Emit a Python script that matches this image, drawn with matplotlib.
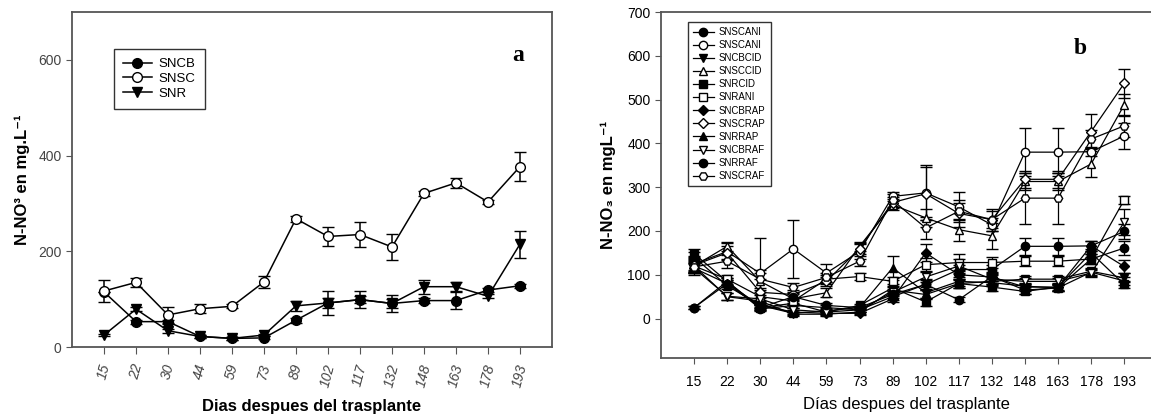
import matplotlib
matplotlib.use("Agg")
import matplotlib.pyplot as plt
from matplotlib.lines import Line2D

plt.rcParams['font.family'] = ['Liberation Sans', 'DejaVu Sans']

days = ["15", "22", "30", "44", "59", "73", "89", "102", "117", "132", "148", "163", "178", "193"]

# ---- Panel a ----
sncb = [115, 53, 53, 22, 18, 19, 56, 92, 99, 91, 97, 97, 119, 128]
sncb_err = [0, 4, 4, 3, 3, 3, 5, 26, 8, 10, 6, 17, 4, 4]
snsc = [117, 135, 67, 80, 85, 136, 268, 231, 235, 209, 321, 343, 303, 377]
snsc_err = [23, 10, 16, 9, 4, 12, 6, 20, 26, 28, 5, 10, 4, 30]
snr = [25, 79, 34, 22, 18, 25, 86, 92, 99, 91, 126, 126, 106, 215]
snr_err = [3, 4, 4, 3, 3, 3, 11, 10, 17, 18, 15, 10, 4, 28]

# ---- Panel b ----
b_labels = ["SNSCANI", "SNSCANI", "SNCBCID", "SNSCCID", "SNRCID", "SNRANI",
            "SNCBRAP", "SNSCRAP", "SNRRAP", "SNCBRAF", "SNRRAF", "SNSCRAF"]
b_values = [
    [25, 85, 22, 30, 25, 20, 50, 78, 112, 112, 165, 165, 166, 199],
    [125, 153, 103, 159, 104, 153, 279, 287, 255, 214, 380, 380, 381, 417],
    [120, 50, 40, 10, 10, 15, 65, 55, 80, 85, 90, 90, 108, 93],
    [120, 165, 85, 45, 59, 165, 260, 230, 203, 189, 313, 313, 353, 488],
    [148, 85, 25, 35, 15, 30, 70, 38, 80, 72, 62, 72, 150, 78],
    [120, 90, 50, 40, 90, 96, 85, 123, 128, 128, 131, 131, 136, 271],
    [115, 80, 30, 15, 12, 12, 45, 150, 100, 95, 72, 72, 166, 119],
    [122, 150, 60, 55, 85, 160, 265, 285, 240, 226, 318, 318, 427, 537],
    [140, 75, 30, 12, 18, 25, 116, 59, 85, 82, 74, 70, 106, 86],
    [115, 51, 45, 20, 15, 20, 60, 95, 120, 90, 85, 85, 104, 220],
    [25, 80, 25, 50, 30, 25, 55, 78, 43, 96, 65, 70, 136, 161],
    [118, 131, 90, 71, 94, 131, 270, 207, 245, 226, 275, 275, 410, 440],
]
b_errors = [
    [4, 8, 5, 6, 5, 4, 8, 12, 10, 10, 20, 20, 12, 18],
    [18, 20, 80, 67, 20, 18, 10, 63, 35, 15, 55, 55, 10, 30],
    [10, 8, 6, 4, 4, 4, 8, 10, 10, 8, 8, 8, 8, 10],
    [20, 10, 20, 12, 10, 10, 12, 20, 25, 30, 20, 20, 30, 25],
    [10, 8, 6, 5, 4, 4, 8, 10, 10, 8, 6, 6, 10, 8],
    [12, 10, 10, 8, 10, 8, 10, 15, 20, 12, 12, 12, 12, 10],
    [10, 8, 6, 4, 4, 4, 8, 20, 12, 10, 8, 8, 12, 15],
    [15, 15, 30, 10, 10, 12, 12, 60, 30, 25, 20, 20, 40, 33],
    [12, 8, 6, 4, 4, 4, 27, 12, 10, 8, 6, 6, 8, 10],
    [12, 8, 8, 5, 4, 4, 8, 12, 15, 10, 8, 8, 8, 30],
    [4, 8, 5, 8, 5, 4, 8, 10, 6, 10, 8, 8, 12, 15],
    [15, 15, 20, 10, 10, 12, 15, 25, 20, 20, 58, 58, 20, 25],
]
b_markers = ['o', 'o', 'v', '^', 's', 's', 'D', 'D', '^', 'v', 'o', 'H']
b_filled = [True, False, True, False, True, False, True, False, True, False, True, False]

fig = plt.figure(figsize=(11.51, 4.15), dpi=100)
spine_col = '#555555'

# ---------- Panel a ----------
ax1 = fig.add_axes([72/1151, 68/415, 480/1151, 335/415])
x = list(range(len(days)))
a_series = [(sncb, sncb_err, 'o', 'black', 'SNCB'),
            (snsc, snsc_err, 'o', 'white', 'SNSC'),
            (snr, snr_err, 'v', 'black', 'SNR')]
a_handles = []
for vals, errs, mk, fc, lab in a_series:
    ax1.errorbar(x, vals, yerr=errs, fmt='-' + mk, color='black', mfc=fc, mec='black',
                 ms=7, lw=1.1, capsize=4, elinewidth=1.1, zorder=3)
    a_handles.append(Line2D([], [], color='black', marker=mk, mfc=fc, mec='black',
                            ms=7, lw=1.1, label=lab))
ax1.set_xlim(-1, 14)
ax1.set_ylim(0, 700)
ax1.set_yticks([0, 200, 400, 600])
ax1.set_xticks(x)
ax1.set_xticklabels(days, rotation=75, fontstyle='italic', color='#444444', fontsize=10)
ax1.tick_params(axis='y', labelsize=10, labelcolor='#444444', direction='out', length=4, color=spine_col)
ax1.tick_params(axis='x', direction='out', length=5, color=spine_col, pad=6)
for s in ax1.spines.values():
    s.set_color(spine_col)
    s.set_linewidth(1.3)
ax1.set_ylabel('N-NO³ en mg.L⁻¹', fontweight='bold', fontsize=12, labelpad=6)
ax1.set_xlabel('Dias despues del trasplante', fontweight='bold', fontsize=12, labelpad=8)
leg1 = ax1.legend(handles=a_handles, loc='upper left', bbox_to_anchor=(0.073, 0.91),
                  frameon=True, fancybox=False, edgecolor='black', fontsize=9.5,
                  handlelength=2.2, borderpad=0.7, labelspacing=0.2, handletextpad=0.5)
leg1.get_frame().set_linewidth(1.0)
ax1.text(0.93, 0.87, 'a', transform=ax1.transAxes, fontsize=17, fontweight='bold',
         family='Liberation Serif', ha='center', va='center')

# ---------- Panel b ----------
ax2 = fig.add_axes([661/1151, 57/415, 490/1151, 346/415])
b_handles = []
for vals, errs, mk, fl, lab in zip(b_values, b_errors, b_markers, b_filled, b_labels):
    fc = 'black' if fl else 'white'
    ms = 5 if mk == 'D' else 6
    ax2.errorbar(x, vals, yerr=errs, fmt='-' + mk, color='black', mfc=fc, mec='black',
                 ms=ms, lw=0.9, capsize=4, elinewidth=0.9, zorder=3)
    b_handles.append(Line2D([], [], color='black', marker=mk, mfc=fc, mec='black',
                            ms=ms, lw=0.9, label=lab))
ax2.set_xlim(-1, 13.81)
ax2.set_ylim(-90, 700)
ax2.set_yticks([0, 100, 200, 300, 400, 500, 600, 700])
ax2.set_xticks(x)
ax2.set_xticklabels(days, fontsize=10)
ax2.tick_params(axis='both', direction='out', length=4, color=spine_col, labelsize=10)
ax2.tick_params(axis='x', pad=8)
for s in ax2.spines.values():
    s.set_color(spine_col)
    s.set_linewidth(1.3)
ax2.spines['right'].set_visible(False)
ax2.set_ylabel('N-NO₃ en mgL⁻¹', fontweight='bold', fontsize=12, labelpad=8)
ax2.set_xlabel('Días despues del trasplante', fontsize=12, labelpad=6)
leg2 = ax2.legend(handles=b_handles, loc='upper left', bbox_to_anchor=(0.045, 0.985),
                  frameon=True, fancybox=False, edgecolor='black', fontsize=7,
                  handlelength=2.2, borderpad=0.5, labelspacing=0.32, handletextpad=0.5)
leg2.get_frame().set_linewidth(1.0)
ax2.text(0.855, 0.895, 'b', transform=ax2.transAxes, fontsize=17, fontweight='bold',
         family='Liberation Serif', ha='center', va='center')

fig.savefig('out.png', dpi=100)
